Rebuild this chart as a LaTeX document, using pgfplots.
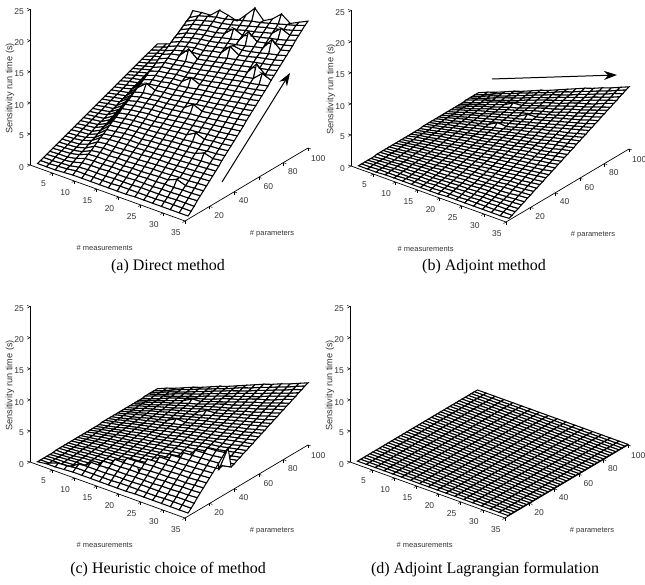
\documentclass[border=0pt]{standalone}
\usepackage{pgfplots}
\usepackage{pgfplotstable}
\usepackage{fontspec}
\usetikzlibrary{arrows.meta}
\setmainfont{Liberation Sans}
\newfontfamily\capfont{Liberation Serif}
\pgfplotsset{compat=1.18}
\pgfplotstableread{
x y a b c d
1 2.5 .2 0 0 .1
3 2.5 .2 0 .2 .1
5 2.5 .2 0 .2 .1
7 2.5 .3 .1 .3 .1
9 2.5 .4 .1 .4 .1
11 2.5 .4 .1 .4 .1
13 2.5 .4 .1 .4 .1
15 2.5 .4 .1 .4 .1
17 2.5 .4 .1 .4 .1
19 2.5 .4 .1 .4 .1
21 2.5 .4 .2 .4 .1
23 2.5 .5 .2 .5 .1
25 2.5 .5 .2 .5 .1
27 2.5 .5 .2 .5 .1
29 2.5 .5 .2 .5 .1
31 2.5 .5 .2 .5 .1
33 2.5 .5 .2 .5 .1
35 2.5 .5 .3 .5 .1
1 5 .4 0 0 .1
3 5 .4 0 0 .1
5 5 .5 .1 .5 .1
7 5 .6 .1 .6 .1
9 5 .8 .1 .8 .1
11 5 .8 .2 .8 .1
13 5 .8 .2 .8 .1
15 5 .8 .2 .8 .1
17 5 .8 .2 .8 .1
19 5 .9 .3 .9 .1
21 5 .9 .3 .9 .1
23 5 .9 .3 .9 .1
25 5 .9 .4 .9 .1
27 5 .9 .4 .9 .1
29 5 1 .4 1 .1
31 5 1 .4 1 .1
33 5 1 .5 1 .1
35 5 1 .5 1 .1
1 7.5 .6 0 0 .1
3 7.5 .6 .1 .1 .1
5 7.5 .7 .1 .1 .1
7 7.5 .8 .2 .2 .1
9 7.5 1.1 .2 1.1 .1
11 7.5 1.2 .2 1.2 .1
13 7.5 1.2 .3 1.2 .1
15 7.5 1.2 .3 1.2 .1
17 7.5 1.3 .4 1.3 .1
19 7.5 1.3 .4 1.3 .1
21 7.5 1.3 .5 1.3 .1
23 7.5 1.4 .5 1.4 .1
25 7.5 1.4 .5 1.4 .1
27 7.5 1.4 .6 1.4 .1
29 7.5 1.4 .6 1.4 .1
31 7.5 1.5 .7 1.5 .1
33 7.5 1.5 .7 1.5 .1
35 7.5 1.5 .8 1.5 .1
1 10 .8 0 0 .1
3 10 .9 .1 .1 .1
5 10 .9 .1 .1 .1
7 10 1.1 .2 .2 .1
9 10 1.5 .3 .3 .1
11 10 1.6 .3 1.6 .1
13 10 1.6 .4 1.6 .1
15 10 1.7 .4 1.7 .1
17 10 1.7 .5 1.7 .1
19 10 1.7 .5 1.7 .1
21 10 1.8 .6 1.8 .1
23 10 1.8 .7 1.8 .1
25 10 1.8 .7 1.8 .1
27 10 1.9 .8 1.9 .1
29 10 1.9 .8 1.9 .1
31 10 2 .9 2 .1
33 10 2 .9 2 .1
35 10 2.1 1 2.1 .1
1 12.5 1 0 0 .1
3 12.5 1.1 .1 .1 .1
5 12.5 1.1 .2 .2 .1
7 12.5 1.4 .3 .3 .1
9 12.5 1.9 .3 .3 .1
11 12.5 2 .4 .4 .1
13 12.5 2 .5 2 .1
15 12.5 2.1 .5 2.1 .1
17 12.5 2.1 .6 2.1 .1
19 12.5 2.2 .7 2.2 .1
21 12.5 2.2 .8 2.2 .1
23 12.5 2.3 .8 2.3 .1
25 12.5 2.3 .9 2.3 .1
27 12.5 2.4 1 2.4 .1
29 12.5 2.4 1 2.4 .1
31 12.5 2.5 1.1 2.5 .1
33 12.5 2.5 1.2 2.5 .1
35 12.5 2.6 1.3 2.6 .1
1 15 1.2 0 0 .1
3 15 1.3 .1 .1 .1
5 15 1.4 .2 .2 .1
7 15 1.7 .3 .3 .1
9 15 2.3 .4 .4 .1
11 15 2.4 .5 .5 .1
13 15 2.4 .6 .6 .1
15 15 2.5 .6 2.5 .1
17 15 2.5 .7 2.5 .1
19 15 2.6 .8 2.6 .1
21 15 2.6 .9 2.6 .1
23 15 2.7 1 2.7 .1
25 15 2.8 1.1 2.8 .1
27 15 2.8 1.2 2.8 .1
29 15 3.4 1.2 2.9 .1
31 15 2.9 1.3 2.9 .1
33 15 3 1.4 3 .1
35 15 3.1 1.5 3.1 .1
1 17.5 1.4 .1 .1 .1
3 17.5 1.5 .1 .1 .1
5 17.5 1.6 .2 .2 .1
7 17.5 1.9 .4 .4 .1
9 17.5 2.6 .5 .5 .1
11 17.5 2.8 .6 .6 .1
13 17.5 2.8 .7 .7 .1
15 17.5 2.9 .7 .7 .1
17 17.5 2.9 .8 2.9 .1
19 17.5 3 1 3 .1
21 17.5 3.1 1.1 3.1 .1
23 17.5 3.2 1.1 3.2 .1
25 17.5 3.2 1.3 3.2 .1
27 17.5 3.3 1.4 3.3 .1
29 17.5 3.4 1.4 3.4 .1
31 17.5 3.4 1.5 3.4 .1
33 17.5 3.5 1.7 3.5 .1
35 17.5 3.6 1.8 3.6 .1
1 20 1.6 .1 .1 .1
3 20 1.7 .2 .2 .1
5 20 1.8 .3 .3 .1
7 20 2.2 .4 .4 .1
9 20 3 .5 .5 .1
11 20 3.2 .6 .6 .1
13 20 3.2 .7 .7 .1
15 20 3.3 .9 .9 .1
17 20 3.4 1 1 .1
19 20 3.4 1.1 1.1 .1
21 20 3.5 1.2 3.5 .1
23 20 3.6 1.3 3.6 .1
25 20 3.7 1.4 3.7 .1
27 20 3.8 1.5 3.8 .1
29 20 3.8 1.7 3.8 .1
31 20 3.9 1.8 3.9 .1
33 20 4 1.9 4 .1
35 20 4.1 2 4.1 .1
1 22.5 1.8 .1 .1 .1
3 22.5 1.9 .2 .2 .1
5 22.5 2 .3 .3 .1
7 22.5 2.5 .5 .5 .1
9 22.5 3.4 .6 .6 .1
11 22.5 3.6 .7 .7 .1
13 22.5 3.6 .8 .8 .1
15 22.5 3.7 1 1 .1
17 22.5 3.8 1.1 1.1 .1
19 22.5 3.9 1.2 1.2 .1
21 22.5 4 1.4 1.4 .1
23 22.5 4.1 1.5 4.1 .1
25 22.5 4.1 1.6 4.1 .1
27 22.5 4.2 1.7 4.2 .1
29 22.5 4.3 1.9 4.3 .1
31 22.5 4.4 2 4.4 .1
33 22.5 4.5 2.1 4.5 .1
35 22.5 4.6 2.3 4.6 .1
1 25 2 .1 .1 .1
3 25 2.1 .2 .2 .1
5 25 2.3 .4 .4 .1
7 25 2.8 .5 .5 .1
9 25 3.8 .6 .6 .1
11 25 4 .8 .8 .1
13 25 4.1 .9 .9 .1
15 25 4.2 1.1 1.1 .1
17 25 4.2 1.2 1.2 .1
19 25 4.3 1.4 1.4 .1
21 25 4.4 1.5 1.5 .1
23 25 4.5 1.6 1.6 .1
25 25 4.6 1.8 4.6 .1
27 25 4.7 1.9 4.7 .1
29 25 4.8 2.1 4.8 .1
31 25 4.9 2.2 4.9 .1
33 25 5 2.4 5 .1
35 25 5.1 2.5 5.1 .1
1 27.5 2.2 .1 .1 .1
3 27.5 2.3 .2 .2 .1
5 27.5 2.5 .4 .4 .1
7 27.5 3 .6 .6 .1
9 27.5 4.1 .7 .7 .1
11 27.5 4.3 .9 .9 .1
13 27.5 4.5 1 1 .1
15 27.5 4.6 1.2 1.2 .1
17 27.5 4.6 1.3 1.3 .1
19 27.5 4.7 1.5 1.5 .1
21 27.5 4.8 1.7 1.7 .1
23 27.5 5 1.8 1.8 .1
25 27.5 5.1 2 2 .1
27 27.5 5.2 2.1 5.2 .1
29 27.5 5.3 2.3 5.3 .1
31 27.5 5.4 2.4 5.4 .1
33 27.5 5.5 2.6 5.5 .1
35 27.5 5.6 2.8 5.6 .1
1 30 2.4 .1 .1 .1
3 30 2.6 .3 .3 .1
5 30 2.7 .4 .4 .1
7 30 3.3 .6 .6 .1
9 30 4.5 .8 .8 .1
11 30 4.7 .9 .9 .1
13 30 4.9 1.1 1.1 .1
15 30 5 1.3 1.3 .1
17 30 5 1.5 1.5 .1
19 30 5.2 1.6 1.6 .1
21 30 5.3 1.8 1.8 .1
23 30 5.4 2 2 .1
25 30 5.5 2.1 2.1 .1
27 30 5.6 2.3 2.3 .1
29 30 5.8 2.5 5.8 .1
31 30 6.4 2.7 5.9 .1
33 30 6 2.8 6 .1
35 30 6.2 3 6.2 .1
1 32.5 2.6 .1 .1 .1
3 32.5 2.8 .3 .3 .1
5 32.5 2.9 .5 .5 .1
7 32.5 3.6 .7 .7 .1
9 32.5 4.9 .8 .8 .1
11 32.5 5.1 1 1 .1
13 32.5 5.3 1.2 1.2 .1
15 32.5 5.4 1.4 1.4 .1
17 32.5 5.5 1.6 1.6 .1
19 32.5 5.6 1.8 1.8 .1
21 32.5 5.7 2 2 .1
23 32.5 5.9 2.1 2.1 .1
25 32.5 6 2.3 2.3 .1
27 32.5 6.1 2.5 2.5 .1
29 32.5 6.2 2.7 2.7 .1
31 32.5 6.4 2.9 6.4 .1
33 32.5 6.5 3.1 6.5 .1
35 32.5 6.7 3.3 6.7 .1
1 35 2.8 .1 .1 .1
3 35 3 .3 .3 .1
5 35 3.2 .5 .5 .1
7 35 3.9 .7 .7 .1
9 35 5.3 .9 .9 .1
11 35 5.5 1.1 1.1 .1
13 35 5.7 1.3 1.3 .1
15 35 5.8 1.5 1.5 .1
17 35 5.9 1.7 1.7 .1
19 35 6 1.9 1.9 .1
21 35 6.2 2.1 2.1 .1
23 35 6.3 2.3 2.3 .1
25 35 6.4 2.5 2.5 .1
27 35 6.6 2.7 2.7 .1
29 35 6.7 2.9 2.9 .1
31 35 6.9 3.1 3.1 .1
33 35 7 3.3 3.3 .1
35 35 7.2 3.5 7.2 .1
1 37.5 3 .1 .1 .1
3 37.5 3.2 .3 .3 .1
5 37.5 3.4 .5 .5 .1
7 37.5 4.1 .8 .8 .1
9 37.5 5.6 1 1 .1
11 37.5 5.9 1.2 1.2 .1
13 37.5 6.1 1.4 1.4 .1
15 37.5 6.2 1.6 1.6 .1
17 37.5 6.3 1.8 1.8 .1
19 37.5 6.5 2 2 .1
21 37.5 6.6 2.3 2.3 .1
23 37.5 6.8 2.5 2.5 .1
25 37.5 6.9 2.7 2.7 .1
27 37.5 7.7 2.9 2.9 .1
29 37.5 7.2 3.1 3.1 .1
31 37.5 7.4 3.3 3.3 .1
33 37.5 7.5 3.5 3.5 .1
35 37.5 7.7 3.8 3.8 .1
1 40 3.2 .1 .1 .1
3 40 3.4 .3 .3 .1
5 40 3.6 .6 .6 .1
7 40 4.4 .8 .8 .1
9 40 6 1 1 .1
11 40 6.3 1.3 1.3 .1
13 40 6.5 1.5 1.5 .1
15 40 6.6 1.7 1.7 .1
17 40 6.7 1.9 1.9 .1
19 40 6.9 2.2 2.2 .1
21 40 7 2.4 2.4 .1
23 40 7.2 2.6 2.6 .1
25 40 7.4 2.9 2.9 .1
27 40 7.5 3.1 3.1 .1
29 40 7.7 3.3 3.3 .1
31 40 7.8 3.5 3.5 .1
33 40 8 3.8 3.8 .1
35 40 8.2 4 4 .1
1 42.5 3.4 .1 .1 .1
3 42.5 3.6 .4 .4 .1
5 42.5 3.8 .6 .6 .1
7 42.5 4.7 .9 .9 .1
9 42.5 6.4 1.1 1.1 .1
11 42.5 6.7 1.3 1.3 .1
13 42.5 6.9 1.6 1.6 .1
15 42.5 7.1 1.8 1.8 .1
17 42.5 7.1 2.1 2.1 .1
19 42.5 7.3 2.3 2.3 .1
21 42.5 7.5 2.6 2.6 .1
23 42.5 7.7 2.8 2.8 .1
25 42.5 7.8 3 3 .1
27 42.5 8 3.3 3.3 .1
29 42.5 8.2 3.5 3.5 .1
31 42.5 8.3 3.8 3.8 .1
33 42.5 8.5 4 4 .1
35 42.5 8.7 4.3 4.3 .1
1 45 3.6 .1 .1 .1
3 45 3.8 .4 .4 .1
5 45 4.1 .6 .6 .1
7 45 5 .9 .9 .1
9 45 6.8 1.2 1.2 .1
11 45 7.1 1.4 1.4 .1
13 45 7.3 1.7 1.7 .1
15 45 7.5 1.9 1.9 .1
17 45 7.6 2.2 2.2 .1
19 45 7.7 2.4 2.4 .1
21 45 7.9 2.7 2.7 .1
23 45 8.1 3 3 .1
25 45 8.3 3.2 3.2 .1
27 45 8.5 3.5 3.5 .1
29 45 8.6 3.7 3.7 .1
31 45 8.8 4 4 .1
33 45 9 4.2 4.2 .1
35 45 9.2 4.5 4.5 .1
1 47.5 3.8 .1 .1 .1
3 47.5 4 .4 .4 .1
5 47.5 4.3 .7 .7 .1
7 47.5 5.2 1 1 .1
9 47.5 7.1 1.2 1.2 .1
11 47.5 7.5 1.5 1.5 .1
13 47.5 7.7 1.8 1.8 .1
15 47.5 7.9 2 2 .1
17 47.5 8 2.3 2.3 .1
19 47.5 8.2 2.6 2.6 .1
21 47.5 8.4 2.9 2.9 .1
23 47.5 8.6 3.1 3.1 .1
25 47.5 8.7 3.4 3.4 .1
27 47.5 8.9 3.7 3.7 .1
29 47.5 9.1 3.9 3.9 .1
31 47.5 9.3 4.2 4.2 .1
33 47.5 9.5 4.5 4.5 .1
35 47.5 9.7 4.8 4.8 .1
1 50 4 .1 .1 .1
3 50 4.3 .4 .4 .1
5 50 4.5 .7 .7 .1
7 50 5.5 1 1 .1
9 50 7.5 1.3 1.3 .1
11 50 7.9 1.6 1.6 .1
13 50 8.1 1.9 1.9 .1
15 50 8.3 2.1 2.1 .1
17 50 8.4 2.4 2.4 .1
19 50 8.6 2.7 2.7 .1
21 50 8.8 3 3 .1
23 50 9.8 3.3 3.3 .1
25 50 9.2 3.6 3.6 .1
27 50 9.4 3.9 3.9 .1
29 50 9.6 4.1 4.1 .1
31 50 9.8 4.4 4.4 .1
33 50 10 4.7 4.7 .1
35 50 10.3 5 5 .1
1 52.5 4.2 .1 .1 .1
3 52.5 4.5 .4 .4 .1
5 52.5 4.7 .7 .7 .1
7 52.5 5.8 1.1 1.1 .1
9 52.5 7.9 1.4 1.4 .1
11 52.5 8.3 1.7 1.7 .1
13 52.5 8.5 2 2 .1
15 52.5 8.7 2.2 2.2 .1
17 52.5 8.8 2.5 2.5 .1
19 52.5 9 2.9 2.9 .1
21 52.5 9.2 3.2 3.2 .1
23 52.5 9.5 3.4 3.4 .1
25 52.5 9.7 3.8 3.8 .1
27 52.5 9.9 4.1 4.1 .1
29 52.5 10.1 4.3 4.3 .1
31 52.5 10.3 4.6 4.6 .1
33 52.5 10.5 5 5 .1
35 52.5 10.8 5.3 5.3 .1
1 55 4.4 .2 .2 .1
3 55 4.7 .5 .5 .1
5 55 5 .8 .8 .1
7 55 6.1 1.1 1.1 .1
9 55 8.3 1.4 1.4 .1
11 55 9.5 1.7 1.7 .1
13 55 8.9 2 2 .1
15 55 9.1 2.4 2.4 .1
17 55 9.2 2.7 2.7 .1
19 55 9.5 3 3 .1
21 55 9.7 3.3 3.3 .1
23 55 9.9 3.6 3.6 .1
25 55 10.1 3.9 3.9 .1
27 55 10.3 4.2 4.2 .1
29 55 10.6 4.6 4.6 .1
31 55 10.8 4.9 4.9 .1
33 55 11 5.2 5.2 .1
35 55 11.3 5.5 5.5 .1
1 57.5 4.6 .2 .2 .1
3 57.5 4.9 .5 .5 .1
5 57.5 5.2 .8 .8 .1
7 57.5 6.3 1.2 1.2 .1
9 57.5 8.6 1.5 1.5 .1
11 57.5 9.1 1.8 1.8 .1
13 57.5 9.3 2.1 2.1 .1
15 57.5 9.5 2.5 2.5 .1
17 57.5 9.7 2.8 2.8 .1
19 57.5 9.9 3.1 3.1 .1
21 57.5 10.1 3.5 3.5 .1
23 57.5 10.4 3.8 3.8 .1
25 57.5 10.6 4.1 4.1 .1
27 57.5 10.8 4.4 4.4 .1
29 57.5 11 4.8 4.8 .1
31 57.5 11.3 5.1 5.1 .1
33 57.5 11.5 5.4 5.4 .1
35 57.5 11.8 5.8 5.8 .1
1 60 4.8 .2 .2 .1
3 60 5.1 .5 .5 .1
5 60 5.4 .9 .9 .1
7 60 6.6 1.2 1.2 .1
9 60 9 1.5 1.5 .1
11 60 9.5 1.9 1.9 .1
13 60 9.7 2.2 2.2 .1
15 60 10 2.6 2.6 .1
17 60 10.1 2.9 2.9 .1
19 60 10.3 3.3 3.3 .1
21 60 10.6 3.6 3.6 .1
23 60 10.8 3.9 3.9 .1
25 60 11 4.3 4.3 .1
27 60 11.3 4.6 4.6 .1
29 60 11.5 5 5 .1
31 60 11.8 5.3 5.3 .1
33 60 12 5.7 5.7 .1
35 60 12.3 6 6 .1
1 62.5 5 .2 .2 .1
3 62.5 5.3 .5 .5 .1
5 62.5 5.6 .9 .9 .1
7 62.5 6.9 1.3 1.3 .1
9 62.5 9.4 1.6 1.6 .1
11 62.5 9.9 2 2 .1
13 62.5 10.1 2.3 2.3 .1
15 62.5 10.4 2.7 2.7 .1
17 62.5 10.5 3 3 .1
19 62.5 11.6 3.4 3.4 .1
21 62.5 11 3.8 3.8 .1
23 62.5 11.3 4.1 4.1 .1
25 62.5 11.5 4.5 4.5 .1
27 62.5 11.8 4.8 4.8 .1
29 62.5 12 5.2 5.2 .1
31 62.5 12.3 5.5 5.5 .1
33 62.5 12.5 5.9 5.9 .1
35 62.5 12.8 6.3 6.3 .1
1 65 5.2 .2 .2 .1
3 65 5.5 .6 .6 .1
5 65 5.9 .9 .9 .1
7 65 7.2 1.3 1.3 .1
9 65 9.8 1.7 1.7 .1
11 65 10.3 2 2 .1
13 65 10.5 2.4 2.4 .1
15 65 10.8 3.2 3.2 .1
17 65 10.9 3.1 3.1 .1
19 65 11.2 3.5 3.5 .1
21 65 11.4 3.9 3.9 .1
23 65 11.7 4.3 4.3 .1
25 65 12 4.7 4.7 .1
27 65 12.2 5 5 .1
29 65 12.5 5.4 5.4 .1
31 65 12.7 5.7 5.7 .1
33 65 13 6.1 6.1 .1
35 65 13.3 6.5 6.5 .1
1 67.5 5.4 .2 .2 .1
3 67.5 5.7 .6 .6 .1
5 67.5 6.1 1 1 .1
7 67.5 7.4 1.4 1.4 .1
9 67.5 10.1 1.7 1.7 .1
11 67.5 10.7 2.1 2.1 .1
13 67.5 10.9 2.5 2.5 .1
15 67.5 11.2 2.9 2.9 .1
17 67.5 11.3 3.3 3.3 .1
19 67.5 11.6 3.7 3.7 .1
21 67.5 11.9 4.1 4.1 .1
23 67.5 12.2 4.4 4.4 .1
25 67.5 12.4 4.8 4.8 .1
27 67.5 12.7 5.2 5.2 .1
29 67.5 13 5.6 5.6 .1
31 67.5 13.2 6 6 .1
33 67.5 13.5 6.4 6.4 .1
35 67.5 13.8 6.8 6.8 .1
1 70 5.6 .2 .2 .1
3 70 6 .6 .6 .1
5 70 6.3 1 1 .1
7 70 7.7 1.4 1.4 .1
9 70 10.5 1.8 1.8 .1
11 70 11.1 2.2 2.2 .1
13 70 11.3 2.6 2.6 .1
15 70 11.6 3 3 .1
17 70 11.8 3.4 3.4 .1
19 70 12 3.8 3.8 .1
21 70 12.3 4.2 4.2 .1
23 70 12.6 4.6 4.6 .1
25 70 12.9 5 5 .1
27 70 13.2 5.4 5.4 .1
29 70 13.4 5.8 5.8 .1
31 70 13.7 6.2 6.2 .1
33 70 15 6.6 6.6 .1
35 70 14.4 7 7 .1
1 72.5 5.8 .2 .2 .1
3 72.5 6.2 .6 .6 .1
5 72.5 6.5 1 1 .1
7 72.5 8 1.5 1.5 .1
9 72.5 10.9 1.9 1.9 .1
11 72.5 11.5 2.3 2.3 .1
13 72.5 11.7 2.7 2.7 .1
15 72.5 12 3.1 3.1 .1
17 72.5 12.2 3.5 3.5 .1
19 72.5 12.5 3.9 3.9 .1
21 72.5 12.8 4.4 4.4 .1
23 72.5 13.1 4.8 4.8 .1
25 72.5 13.3 5.2 5.2 .1
27 72.5 13.6 5.6 5.6 .1
29 72.5 13.9 6 6 .1
31 72.5 15.7 6.4 6.4 .1
33 72.5 14.5 6.8 6.8 .1
35 72.5 14.9 7.3 7.3 .1
1 75 6 .2 .2 .1
3 75 6.4 .6 .6 .1
5 75 6.8 1.1 1.1 .1
7 75 8.3 1.5 1.5 .1
9 75 11.3 1.9 1.9 .1
11 75 11.9 2.4 2.4 .1
13 75 12.2 2.8 2.8 .1
15 75 13.7 3.2 3.2 .1
17 75 12.6 3.6 3.6 .1
19 75 12.9 4.4 4.4 .1
21 75 13.2 4.5 4.5 .1
23 75 13.5 4.9 4.9 .1
25 75 13.8 5.4 5.4 .1
27 75 14.1 5.8 5.8 .1
29 75 14.4 6.2 6.2 .1
31 75 14.7 6.6 6.6 .1
33 75 15 7.1 7.1 .1
35 75 15.4 7.5 7.5 .1
1 77.5 6.2 .2 .2 .1
3 77.5 6.6 .7 .7 .1
5 77.5 7 1.1 1.1 .1
7 77.5 8.5 1.6 1.6 .1
9 77.5 11.6 2 2 .1
11 77.5 12.2 2.4 2.4 .1
13 77.5 12.6 2.9 2.9 .1
15 77.5 12.9 3.3 3.3 .1
17 77.5 13 3.8 3.8 .1
19 77.5 13.3 4.2 4.2 .1
21 77.5 13.6 4.7 4.7 .1
23 77.5 14 5.1 5.1 .1
25 77.5 14.3 5.5 5.5 .1
27 77.5 14.6 6 6 .1
29 77.5 14.9 6.4 6.4 .1
31 77.5 15.2 6.9 6.9 .1
33 77.5 15.5 7.3 7.3 .1
35 77.5 15.9 7.8 7.8 .1
1 80 6.4 .2 .2 .1
3 80 6.8 .7 .7 .1
5 80 7.2 1.1 1.1 .1
7 80 8.8 1.6 1.6 .1
9 80 12 2.1 2.1 .1
11 80 12.6 2.5 2.5 .1
13 80 13 3 3 .1
15 80 13.3 3.4 3.4 .1
17 80 13.4 3.9 3.9 .1
19 80 13.8 4.4 4.4 .1
21 80 14.1 4.8 4.8 .1
23 80 15.6 5.2 5.2 .1
25 80 14.7 5.7 5.7 .1
27 80 15 6.2 6.2 .1
29 80 15.4 6.6 6.6 .1
31 80 15.7 7.1 7.1 .1
33 80 16 7.6 7.6 .1
35 80 16.4 8 8 .1
1 82.5 6.6 .2 .2 .1
3 82.5 7 .7 .7 .1
5 82.5 7.4 1.2 1.2 .1
7 82.5 9.1 1.7 1.7 .1
9 82.5 12.4 2.1 2.1 .1
11 82.5 13 2.6 2.6 .1
13 82.5 13.4 3.1 3.1 .1
15 82.5 13.7 3.5 3.5 .1
17 82.5 13.9 4 4 .1
19 82.5 14.2 4.5 4.5 .1
21 82.5 14.5 5 5 .1
23 82.5 15.4 5.4 5.4 .1
25 82.5 15.2 5.9 5.9 .1
27 82.5 15.5 6.4 6.4 .1
29 82.5 15.8 6.8 6.8 .1
31 82.5 16.2 7.3 7.3 .1
33 82.5 16.5 7.8 7.8 .1
35 82.5 16.9 8.3 8.3 .1
1 85 6.8 .2 .2 .1
3 85 7.2 .7 .7 .1
5 85 7.7 1.2 1.2 .1
7 85 9.4 1.7 1.7 .1
9 85 12.8 2.2 2.2 .1
11 85 13.4 2.7 2.7 .1
13 85 13.8 3.5 3.5 .1
15 85 14.1 3.6 3.6 .1
17 85 14.3 4.1 4.1 .1
19 85 14.6 4.6 4.6 .1
21 85 15 5.1 5.1 .1
23 85 15.3 5.6 5.6 .1
25 85 15.6 6.1 6.1 .1
27 85 16 6.6 6.6 .1
29 85 16.3 7 7 .1
31 85 18.2 7.5 7.5 .1
33 85 17 8 8 .1
35 85 17.4 8.5 8.5 .1
1 87.5 7 .2 .2 .1
3 87.5 7.4 .7 .7 .1
5 87.5 7.9 1.2 1.2 .1
7 87.5 9.6 1.8 1.8 .1
9 87.5 13.1 2.3 2.3 .1
11 87.5 13.8 2.8 2.8 .1
13 87.5 14.2 3.3 3.3 .1
15 87.5 14.5 3.7 3.7 .1
17 87.5 14.7 4.2 4.2 .1
19 87.5 15.1 4.8 4.8 .1
21 87.5 15.4 5.3 5.3 .1
23 87.5 15.8 5.7 5.7 .1
25 87.5 17.6 6.3 6.3 .1
27 87.5 16.5 6.8 6.8 .1
29 87.5 16.8 7.2 7.2 .1
31 87.5 17.2 7.7 7.7 .1
33 87.5 17.5 8.3 8.3 .1
35 87.5 17.9 8.8 8.8 .1
1 90 7.2 .3 .3 .1
3 90 7.7 .8 .8 .1
5 90 8.1 1.3 1.3 .1
7 90 9.9 1.8 1.8 .1
9 90 13.5 2.3 2.3 .1
11 90 14.2 2.8 2.8 .1
13 90 14.6 3.3 3.3 .1
15 90 14.9 3.9 3.9 .1
17 90 15.1 4.4 4.4 .1
19 90 15.5 4.9 4.9 .1
21 90 16.8 5.4 5.4 .1
23 90 16.2 5.9 5.9 .1
25 90 16.6 6.4 6.4 .1
27 90 16.9 6.9 6.9 .1
29 90 17.3 7.5 7.5 .1
31 90 17.6 8 8 .1
33 90 18 8.5 8.5 .1
35 90 18.5 9 9 .1
1 92.5 7.4 .3 .3 .1
3 92.5 7.9 .8 .8 .1
5 92.5 8.3 1.3 1.3 .1
7 92.5 10.2 1.9 1.9 .1
9 92.5 13.9 2.4 2.4 .1
11 92.5 14.6 2.9 2.9 .1
13 92.5 15 3.4 3.4 .1
15 92.5 15.4 4 4 .1
17 92.5 15.5 4.5 4.5 .1
19 92.5 15.9 5 5 .1
21 92.5 16.3 5.6 5.6 .1
23 92.5 16.7 6.1 6.1 .1
25 92.5 17 6.6 6.6 .1
27 92.5 17.4 7.1 7.1 .1
29 92.5 17.8 7.7 7.7 .1
31 92.5 19.1 8.2 8.2 .1
33 92.5 18.5 8.7 8.7 .1
35 92.5 19 9.3 9.3 .1
1 95 7.6 .3 .3 .1
3 95 8.1 .8 .8 .1
5 95 8.6 1.4 1.4 .1
7 95 10.5 1.9 1.9 .1
9 95 14.3 2.4 2.4 .1
11 95 15 3 3 .1
13 95 15.4 3.5 3.5 .1
15 95 15.8 4.1 4.1 .1
17 95 16 4.6 4.6 .1
19 95 16.3 5.2 5.2 .1
21 95 16.7 5.7 5.7 .1
23 95 17.1 6.2 6.2 .1
25 95 17.5 6.8 6.8 .1
27 95 17.9 7.3 7.3 .1
29 95 18.2 7.9 7.9 .1
31 95 18.6 8.4 8.4 .1
33 95 19 9 9 .1
35 95 19.5 9.5 9.5 .1
1 97.5 7.8 .3 .3 .1
3 97.5 8.3 .8 .8 .1
5 97.5 8.8 1.4 1.4 .1
7 97.5 10.7 2 2 .1
9 97.5 14.6 2.5 2.5 .1
11 97.5 15.4 3.1 3.1 .1
13 97.5 15.8 3.6 3.6 .1
15 97.5 16.2 4.2 4.2 .1
17 97.5 16.4 4.7 4.7 .1
19 97.5 16.8 5.3 5.3 .1
21 97.5 17.2 5.9 5.9 .1
23 97.5 17.6 6.4 6.4 .1
25 97.5 17.9 7 7 .1
27 97.5 18.3 7.5 7.5 .1
29 97.5 18.7 8.1 8.1 .1
31 97.5 19.1 8.6 8.6 .1
33 97.5 19.5 9.2 9.2 .1
35 97.5 20 9.8 9.8 .1
1 100 8 .3 .3 .1
3 100 8.5 .9 .9 .1
5 100 9 1.4 1.4 .1
7 100 11 2 2 .1
9 100 15.4 2.6 2.6 .1
11 100 15.6 3.1 3.1 .1
13 100 15.7 3.7 3.7 .1
15 100 17 4.3 4.3 .1
17 100 16.7 4.8 4.8 .1
19 100 16.3 5.4 5.4 .1
21 100 17.8 6 6 .1
23 100 19.4 6.6 6.6 .1
25 100 17.9 7.2 7.2 .1
27 100 18.7 7.7 7.7 .1
29 100 20 8.3 8.3 .1
31 100 19 8.8 8.8 .1
33 100 19.7 9.4 9.4 .1
35 100 20.4 10 10 .1
}\data
\pgfplotsset{common/.style={
 y={(1.23pt,0.73pt)},z={(0pt,6.22pt)},
 xmin=0,xmax=35,ymin=0,ymax=100,zmin=0,zmax=25,
 anchor=origin,clip=false,
 axis line style={-,black,line width=0.7pt},
 tick style={black,line width=0.5pt},major tick length=3pt,tick align=outside,
 tick label style={font=\fontsize{8.5}{8}\selectfont,text=black!80},
 /pgf/number format/assume math mode=true,
 label style={text=black!80}},
 panel/.style={common,x={(4.4286pt,-1.6pt)},
 axis x line*=bottom,axis y line=none,axis z line*=left,
 xtick={5,10,...,35},ztick={0,5,...,25},ytick=\empty,
 xticklabel style={xshift=-2pt,yshift=-2pt},
 xlabel={\# measurements},zlabel={Sensitivity run time (s)},
 xlabel style={at={(axis cs:30.1,-47.7,0)},anchor=center,rotate=0,font=\fontsize{7.5}{8}\selectfont},
 zlabel style={at={(axis cs:-2.8,-6.1,12.3)},anchor=center,rotate=0,font=\fontsize{9.2}{9}\selectfont}},
 pp/.style={common,x={(-4.4286pt,1.6pt)},axis x line=none,axis z line=none,axis y line*=left,
 xtick=\empty,ztick=\empty,ytick={20,40,...,100},
 yticklabel style={xshift=1pt},
 ylabel={\# parameters},
 ylabel style={at={(axis cs:-15.3,15.7,0)},anchor=center,rotate=0,font=\fontsize{7.5}{8}\selectfont}},
}
\pgfplotsset{srf/.style={surf,shader=faceted,faceted color=black,z buffer=sort,
 colormap={wb}{color=(white) color=(white)},mesh/ordering=x varies,mesh/cols=18,line width=1.05pt}}
\begin{document}
\begin{tikzpicture}[x=1pt,y=1pt]
\path[use as bounding box] (0,0) rectangle (645,585);
\begin{axis}[panel,at={(30pt,420pt)}]
\addplot3[srf] table[x=x,y=y,z=a]{\data};
\end{axis}
\begin{axis}[pp,at={(185pt,364pt)}]
\end{axis}
\begin{axis}[panel,at={(351pt,419pt)}]
\addplot3[srf] table[x=x,y=y,z=b]{\data};
\end{axis}
\begin{axis}[pp,at={(506pt,363pt)}]
\end{axis}
\begin{axis}[panel,at={(30pt,123pt)}]
\addplot3[srf] table[x=x,y=y,z=c]{\data};
\end{axis}
\begin{axis}[pp,at={(185pt,67pt)}]
\end{axis}
\begin{axis}[panel,at={(350pt,123pt)}]
\addplot3[srf] table[x=x,y=y,z=d]{\data};
\end{axis}
\begin{axis}[pp,at={(505pt,67pt)}]
\end{axis}
\draw[-{Stealth[length=13pt,width=9pt]},line width=1pt] (222,403) -- (290,512);
\draw[-{Stealth[length=13pt,width=9pt]},line width=1pt] (492,506) -- (617,510);
\node[font=\capfont\fontsize{16}{16}\selectfont] at (168,318) {(a) Direct method};
\node[font=\capfont\fontsize{16}{16}\selectfont] at (484,318) {(b) Adjoint method};
\node[font=\capfont\fontsize{16}{16}\selectfont] at (168,15) {(c) Heuristic choice of method};
\node[font=\capfont\fontsize{16}{16}\selectfont] at (485,15) {(d) Adjoint Lagrangian formulation};
\end{tikzpicture}
\end{document}
